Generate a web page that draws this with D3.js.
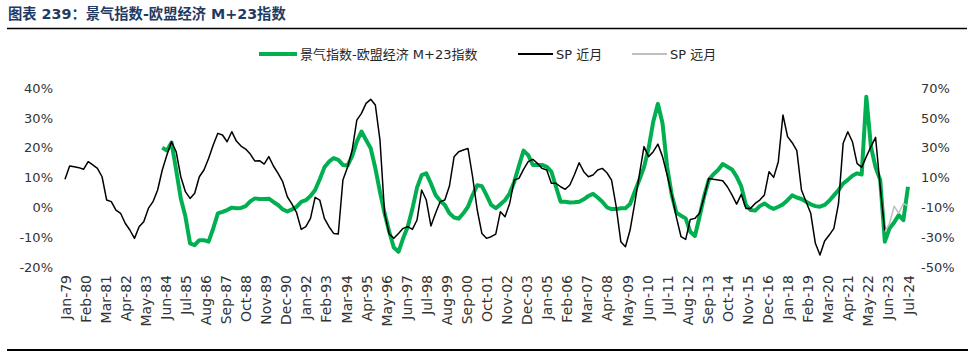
<!DOCTYPE html>
<html><head><meta charset="utf-8">
<script src="https://cdn.jsdelivr.net/npm/d3@7"></script>
<style>
html,body{margin:0;padding:0;background:#fff;}
svg{display:block;font-family:"DejaVu Sans","Noto Sans CJK SC",sans-serif;}
</style></head>
<body>
<svg id="chart" width="975" height="356"></svg>
<script>
// ---- data (quarterly readings, starting Jan-79, step = 3 months) ----
const stepMonths = 3;
const tickLabels = ["Jan-79","Feb-80","Mar-81","Apr-82","May-83","Jun-84","Jul-85","Aug-86","Sep-87","Oct-88","Nov-89","Dec-90","Jan-92","Feb-93","Mar-94","Apr-95","May-96","Jun-97","Jul-98","Aug-99","Sep-00","Oct-01","Nov-02","Dec-03","Jan-05","Feb-06","Mar-07","Apr-08","May-09","Jun-10","Jul-11","Aug-12","Sep-13","Oct-14","Nov-15","Dec-16","Jan-18","Feb-19","Mar-20","Apr-21","May-22","Jun-23","Jul-24"];
const tickEvery = 13;
const totalMonths = 546;

// SP 近月 (right axis, %), from quarter 0
const spNearStart = 0;
const spNear = [8.8,17.7,17.2,16.6,15.5,20.6,18.4,16.1,10.5,-5.1,-6.2,-11.8,-14.0,-20.7,-25.2,-30.8,-23.0,-19.6,-10.7,-6.2,
1.6,15.0,25.1,34.0,27.3,10.5,0.5,-4.0,-0.6,10.5,15.0,22.8,31.8,39.6,38.5,34.0,40.7,34.4,31.1,29.1,
25.7,21.0,21.3,19.0,24.0,17.7,12.8,7.2,-2.9,-7.8,-13.6,-24.8,-23.0,-17.4,-3.3,-5.1,-17.4,-23.0,-27.5,-27.9,
8.3,16.8,28.4,48.5,53.0,59.7,62.4,58.6,35.1,-14.0,-27.9,-30.8,-27.5,-24.1,-23.0,-24.8,-18.5,1.6,-5.1,-22.5,
-14.0,-6.2,-5.1,4.3,23.9,27.3,28.4,29.5,10.5,-11.8,-27.5,-30.8,-29.7,-27.9,-12.9,-16.3,-7.4,8.3,9.4,15.5,
20.6,22.2,19.5,16.1,15.0,6.1,6.1,3.8,2.1,5.0,12.0,19.9,13.9,10.5,11.7,15.0,16.1,13.2,8.3,-9.6,
-33.0,-36.4,-25.2,-7.4,11.7,30.7,24.0,27.3,32.4,24.0,11.7,-1.7,-16.7,-29.7,-31.5,-18.1,-17.4,-14.0,-2.9,9.4,
8.8,8.3,7.8,3.8,-1.7,-7.8,-1.3,-10.7,-10.7,-7.4,-5.1,-1.7,13.9,10.1,20.6,51.9,37.4,33.3,28.0,1.6,
-6.2,-14.0,-34.1,-42.0,-32.6,-28.6,-24.1,-7.4,32.9,40.7,34.0,19.5,16.8,24.0,30.7,36.9,3.8,-26.4];

// SP 远月 (right axis, %)
const spFarStart = 177;
const spFar = [-26.4,-20.8,-9.2,-14.0,-7.4,-9.2];

// 景气指数-欧盟经济 M+23指数 (left axis, %)
const idxStart = 21;
const idx = [20.0,19.0,21.7,12.5,3.0,-3.1,-12.1,-12.7,-11.0,-11.0,-11.5,-7.1,-2.0,-1.5,-0.9,-0.1,-0.3,-0.2,0.4,2.0,
3.0,2.8,2.8,2.9,1.8,0.8,-0.7,-1.4,-0.7,0.2,1.8,2.4,3.8,5.8,9.4,13.4,15.3,16.5,15.9,14.2,
14.0,17.2,22.0,25.4,22.6,19.8,13.1,5.2,-2.0,-8.2,-13.5,-14.9,-10.4,-6.5,-0.5,6.6,10.8,11.4,8.0,4.1,
2.2,0.8,-2.0,-3.4,-3.8,-2.0,0.2,4.1,7.4,7.1,4.1,0.8,-0.3,1.0,2.4,4.7,8.6,13.9,19.0,17.5,
14.2,14.2,14.2,13.6,12.0,6.9,1.9,1.9,1.6,1.7,1.9,2.7,3.8,4.5,3.3,1.9,0.0,-0.6,-0.6,-0.3,
-0.3,1.1,5.2,9.2,13.4,19.8,28.7,34.7,28.2,13.6,4.1,-1.8,-2.8,-3.7,-8.2,-9.6,-3.1,3.8,9.2,11.1,
12.5,14.5,13.6,12.7,10.3,7.0,0.8,-0.9,-1.1,0.4,1.3,0.2,-0.5,0.2,1.0,2.4,4.0,3.3,2.8,1.9,
1.0,0.4,0.2,0.8,2.2,4.0,5.8,8.0,9.2,10.6,11.4,11.0,37.1,20.3,13.4,9.2,-11.5,-7.1,-5.1,-2.6,
-4.3,6.9];

const leftTicks = [-20,-10,0,10,20,30,40];
const rightTicks = [-50,-30,-10,10,30,50,70];
const seriesNames = ["景气指数-欧盟经济 M+23指数","SP 近月","SP 远月"];
const seriesColors = ["#00B050","#000000","#BFBFBF"];
const titleText = "图表 239：景气指数-欧盟经济 M+23指数";

// ---- drawing ----
const svg = d3.select("#chart");
const x = d3.scaleLinear().domain([0, totalMonths]).range([65, 908]);
const yL = d3.scaleLinear().domain([-20, 40]).range([267, 88]);
const yR = d3.scaleLinear().domain([-50, 70]).range([267, 88]);

// title + rules
svg.append("text").attr("x", 8).attr("y", 19).attr("font-size", 14.3).attr("font-weight", "bold")
  .attr("fill", "#1F3B63").text(titleText);
svg.append("line").attr("x1", 7).attr("x2", 967).attr("y1", 28.5).attr("y2", 28.5)
  .attr("stroke", "#000").attr("stroke-width", 1.3);
svg.append("line").attr("x1", 7).attr("x2", 968).attr("y1", 350).attr("y2", 350)
  .attr("stroke", "#000").attr("stroke-width", 2);

// legend
const legend = [
  {x1: 259, x2: 297, tx: 300, w: 4},
  {x1: 518, x2: 553, tx: 556, w: 2},
  {x1: 632, x2: 667, tx: 670, w: 2}
];
legend.forEach((l, i) => {
  svg.append("line").attr("x1", l.x1).attr("x2", l.x2).attr("y1", 54).attr("y2", 54)
    .attr("stroke", seriesColors[i]).attr("stroke-width", l.w);
  svg.append("text").attr("x", l.tx).attr("y", 54).attr("dy", "0.35em").attr("font-size", 13)
    .attr("fill", "#262626").text(seriesNames[i]);
});

// axes
const fmt = d => d + "%";
const gl = svg.append("g").attr("transform", "translate(53,0)")
  .call(d3.axisLeft(yL).tickValues(leftTicks).tickFormat(fmt).tickSize(0).tickPadding(0));
const gr = svg.append("g").attr("transform", "translate(921,0)")
  .call(d3.axisRight(yR).tickValues(rightTicks).tickFormat(fmt).tickSize(0).tickPadding(0));
const gb = svg.append("g").attr("transform", "translate(0,275)")
  .call(d3.axisBottom(x).tickValues(tickLabels.map((_, i) => i * tickEvery))
    .tickFormat((d, i) => tickLabels[i]).tickSize(0).tickPadding(0));
[gl, gr, gb].forEach(g => {
  g.select(".domain").remove();
  g.selectAll("text").attr("font-family", "DejaVu Sans").attr("font-size", 13).attr("fill", "#333");
});
gb.selectAll("text").attr("font-size", 14).attr("transform", "rotate(-90)")
  .attr("text-anchor", "end").attr("x", 0).attr("y", 0).attr("dy", "0.36em");

// lines
const mk = (arr, start, y) => arr.map((v, i) => ({m: (start + i) * stepMonths, v}));
const lineL = d3.line().x(d => x(d.m)).y(d => yL(d.v));
const lineR = d3.line().x(d => x(d.m)).y(d => yR(d.v));

svg.append("path").attr("d", lineL(mk(idx, idxStart))).attr("fill", "none")
  .attr("stroke", seriesColors[0]).attr("stroke-width", 4).attr("stroke-linejoin", "round");
svg.append("path").attr("d", lineR(mk(spNear, spNearStart))).attr("fill", "none")
  .attr("stroke", seriesColors[1]).attr("stroke-width", 1.5).attr("stroke-linejoin", "round");
svg.append("path").attr("d", lineR(mk(spFar, spFarStart))).attr("fill", "none")
  .attr("stroke", seriesColors[2]).attr("stroke-width", 1.5).attr("stroke-linejoin", "round");
</script>
</body></html>
